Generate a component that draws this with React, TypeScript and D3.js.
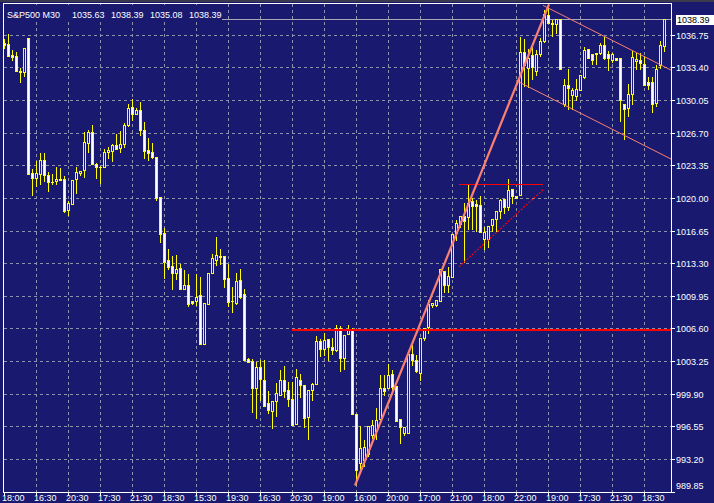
import React from "react";
import * as d3 from "d3";

const W = 714;
const H = 503;

const symbolLabel = "S&P500 M30";
const headerOHLC = [1035.63, 1038.39, 1035.08, 1038.39];
const currentPrice = 1038.39;

const opens = [
  1035.86, 1035.76, 1034.66, 1034.52, 1033.08, 1032.95, 1036.38, 1022.56, 1022.01, 1022.45,
  1023.89, 1022.36, 1021.64, 1021.74, 1021.97, 1021.97, 1018.71, 1019.37, 1021.9, 1022.52,
  1022.87, 1025.65, 1026.74, 1023.51, 1023.21, 1023.21, 1024.73, 1024.82, 1025.47, 1025.16,
  1025.55, 1027.45, 1029.35, 1028.64, 1029.07, 1026.99, 1024.95, 1024.75, 1024.24, 1020.09,
  1016.38, 1013.6, 1013.02, 1012.33, 1012.81, 1010.69, 1011.03, 1009.41, 1009.38, 1010.04,
  1005.01, 1009.13, 1012.27, 1013.67, 1014.08, 1014.02, 1011.78, 1009.41, 1009.2, 1011.54,
  1010.1, 1003.44, 1003.23, 1000.53, 1002.61, 1001.35, 998.91, 998.09, 999.15, 999.8,
  1001.25, 1000.32, 999.4, 996.78, 1001.28, 1000.76, 997.5, 1000.32, 1000.94, 1005.26,
  1004.5, 1005.5, 1004.67, 1004.39, 1006.6, 1003.57, 1005.98, 1006.42, 997.85, 992.74,
  993.05, 993.74, 995.62, 996.06, 997.34, 1000.53, 1000.53, 1001.89, 1000.7, 997.26,
  995.86, 995.86, 1004.02, 1003.33, 1001.97, 1005.64, 1006.7, 1009.0, 1009.0, 1009.44,
  1012.54, 1011.03, 1011.91, 1016.38, 1017.34, 1018.09, 1017.99, 1019.64, 1019.37, 1019.3,
  1015.77, 1015.77, 1017.24, 1017.82, 1018.65, 1019.88, 1019.02, 1020.91, 1020.22, 1020.25,
  1035.01, 1033.36, 1034.63, 1033.08, 1034.8, 1036.1, 1038.74, 1037.99, 1037.82, 1038.4,
  1029.66, 1031.64, 1030.54, 1030.44, 1031.13, 1032.43, 1035.24, 1034.73, 1034.73, 1034.9,
  1035.66, 1034.73, 1034.11, 1034.39, 1034.39, 1029.66, 1029.24, 1030.68, 1034.04, 1034.21,
  1033.77, 1031.95, 1031.95, 1029.76, 1033.63, 1035.63,
];

const highs = [
  1036.27, 1036.79, 1035.14, 1034.94, 1033.29, 1035.35, 1036.38, 1023.0, 1023.82, 1024.65,
  1024.65, 1022.7, 1022.48, 1023.18, 1023.1, 1022.25, 1019.71, 1021.87, 1023.13, 1022.8,
  1026.81, 1027.01, 1027.53, 1023.62, 1023.31, 1024.98, 1025.26, 1025.5, 1026.6, 1026.84,
  1027.7, 1029.62, 1030.2, 1029.21, 1029.89, 1027.84, 1026.19, 1025.67, 1024.24, 1020.12,
  1016.96, 1014.77, 1014.05, 1014.12, 1013.25, 1012.61, 1012.19, 1009.41, 1012.19, 1011.89,
  1009.17, 1012.27, 1014.22, 1016.0, 1014.77, 1014.02, 1013.25, 1010.86, 1012.3, 1012.71,
  1010.61, 1003.57, 1003.41, 1003.13, 1003.33, 1003.33, 1000.14, 999.12, 1000.97, 1002.31,
  1002.72, 1001.14, 1001.07, 1002.41, 1001.89, 1000.76, 1000.32, 1000.97, 1005.81, 1005.53,
  1006.11, 1005.5, 1005.57, 1006.94, 1006.84, 1005.88, 1006.94, 1006.63, 997.85, 996.55,
  995.11, 996.55, 997.16, 998.43, 1001.79, 1001.79, 1002.99, 1002.31, 1000.7, 997.26,
  996.47, 1004.02, 1004.88, 1003.85, 1005.64, 1006.6, 1009.51, 1009.2, 1009.51, 1012.71,
  1012.54, 1012.95, 1016.31, 1017.75, 1018.09, 1019.5, 1021.4, 1020.02, 1019.81, 1020.22,
  1017.06, 1017.16, 1017.82, 1018.65, 1019.88, 1019.88, 1021.94, 1020.91, 1020.22, 1036.55,
  1036.27, 1035.32, 1035.93, 1035.14, 1036.45, 1039.26, 1039.7, 1038.26, 1038.4, 1038.4,
  1032.26, 1033.19, 1031.3, 1032.16, 1032.57, 1035.48, 1035.24, 1034.8, 1034.9, 1035.93,
  1036.55, 1035.07, 1034.9, 1034.39, 1034.39, 1029.66, 1031.71, 1035.07, 1034.9, 1034.9,
  1034.55, 1032.43, 1032.43, 1033.6, 1036.1, 1038.39,
];

const lows = [
  1035.35, 1034.52, 1034.14, 1032.98, 1031.88, 1032.5, 1022.45, 1020.32, 1021.18, 1021.39,
  1021.7, 1020.66, 1021.39, 1021.39, 1021.8, 1018.57, 1018.27, 1019.37, 1020.5, 1022.38,
  1022.11, 1024.69, 1023.45, 1022.01, 1021.5, 1023.18, 1024.13, 1023.75, 1025.03, 1024.75,
  1025.26, 1027.36, 1028.04, 1028.59, 1026.5, 1024.13, 1023.88, 1024.07, 1019.81, 1015.52,
  1011.81, 1012.68, 1010.69, 1011.71, 1010.69, 1010.69, 1008.89, 1009.1, 1008.96, 1005.01,
  1005.01, 1009.13, 1012.27, 1013.15, 1013.25, 1010.89, 1008.89, 1008.28, 1009.13, 1009.75,
  1003.37, 1003.2, 998.02, 997.4, 999.24, 998.63, 997.88, 996.37, 997.57, 999.8,
  999.56, 998.63, 996.68, 996.78, 999.56, 996.47, 995.24, 999.22, 1000.94, 1003.75,
  1003.85, 1003.37, 1003.99, 1004.29, 1002.23, 1002.44, 1005.98, 997.78, 990.59, 991.81,
  992.43, 993.46, 995.31, 995.28, 996.99, 999.73, 1000.53, 1000.07, 997.09, 994.82,
  995.62, 995.86, 1002.82, 1002.1, 1001.28, 1005.39, 1006.15, 1008.79, 1008.89, 1009.41,
  1010.31, 1010.31, 1011.91, 1015.69, 1017.06, 1013.46, 1016.82, 1016.82, 1016.55, 1016.49,
  1014.74, 1015.0, 1016.55, 1016.55, 1017.96, 1018.5, 1018.78, 1019.47, 1019.99, 1020.25,
  1031.47, 1031.4, 1032.16, 1032.57, 1034.55, 1035.99, 1037.92, 1036.61, 1036.96, 1033.19,
  1029.48, 1029.14, 1029.17, 1030.1, 1031.13, 1032.33, 1034.39, 1033.7, 1033.7, 1034.73,
  1034.29, 1033.11, 1033.94, 1034.21, 1027.86, 1026.05, 1028.38, 1029.66, 1033.19, 1033.19,
  1031.57, 1031.2, 1028.79, 1029.41, 1033.36, 1035.08,
];

const closes = [
  1035.66, 1034.55, 1034.45, 1033.01, 1032.91, 1035.35, 1022.45, 1022.01, 1022.56, 1023.89,
  1022.32, 1021.6, 1021.62, 1021.97, 1021.8, 1018.68, 1019.47, 1021.87, 1022.66, 1022.8,
  1025.78, 1026.74, 1023.45, 1023.18, 1023.21, 1024.75, 1024.88, 1025.44, 1025.06, 1025.57,
  1027.53, 1029.28, 1028.59, 1029.07, 1026.94, 1024.79, 1024.61, 1024.21, 1019.99, 1016.28,
  1013.46, 1012.95, 1012.33, 1012.68, 1010.69, 1011.06, 1009.13, 1009.23, 1009.8, 1005.01,
  1009.17, 1012.27, 1013.81, 1014.12, 1013.94, 1011.71, 1009.34, 1009.41, 1011.44, 1009.85,
  1003.37, 1003.2, 1000.53, 1002.61, 1001.41, 998.63, 998.22, 999.12, 999.94, 1001.35,
  1000.22, 999.35, 996.68, 1001.56, 1000.83, 997.4, 1000.32, 1000.87, 1005.26, 1004.5,
  1005.39, 1004.67, 1004.39, 1006.6, 1003.57, 1005.88, 1006.42, 997.78, 992.02, 994.28,
  994.38, 996.55, 996.72, 997.24, 1000.53, 1000.17, 1001.82, 1000.59, 997.09, 996.47,
  996.47, 1004.02, 1003.33, 1002.23, 1005.64, 1006.6, 1009.1, 1009.2, 1009.51, 1012.68,
  1011.1, 1011.99, 1016.31, 1017.41, 1018.09, 1017.65, 1019.47, 1019.12, 1019.12, 1016.49,
  1016.49, 1017.16, 1017.82, 1018.65, 1019.74, 1019.02, 1020.77, 1020.15, 1019.99, 1035.01,
  1033.63, 1034.39, 1033.42, 1034.8, 1036.1, 1038.85, 1037.92, 1037.82, 1038.4, 1033.26,
  1031.64, 1031.3, 1031.13, 1031.23, 1032.57, 1035.14, 1034.39, 1034.21, 1034.9, 1035.66,
  1034.39, 1034.39, 1034.73, 1034.21, 1030.03, 1029.14, 1030.68, 1034.49, 1034.29, 1033.88,
  1031.57, 1031.64, 1029.66, 1033.26, 1035.66, 1038.39,
];

const xTickLabels = [
  "18:00", "16:30", "20:30", "17:30", "21:30", "18:30", "15:30", "19:30", "16:30", "20:30",
  "19:00", "16:00", "20:00", "17:00", "21:00", "18:00", "22:00", "19:00", "17:30", "21:30", "18:30",
];
const barsPerGrid = 8;

const yTicks = [
  1036.75, 1033.4, 1030.05, 1026.7, 1023.35, 1020.0, 1016.65, 1013.3, 1009.95, 1006.6,
  1003.25, 999.9, 996.55, 993.2, 989.85,
];

// drawn objects, in (bar index, price)
const supportLevel = { startBar: 72, price: 1006.58 };
const trendLine = { b1: 87.75, p1: 990.47, b2: 136.25, p2: 1039.88 };
const triangleTop = { b1: 113.75, b2: 134.75, price: 1021.45 };
const triangleBottom = { b1: 113.75, p1: 1012.92, b2: 134.75, p2: 1020.84 };
const channelUpper = { b1: 134.75, p1: 1039.77, b2: 167, p2: 1033.07 };
const channelLower = { b1: 128, p1: 1032.05, b2: 167, p2: 1023.94 };

const BG = "#191970";
const GRID = "#8c94aa";
const FONT = "'Liberation Sans', Arial, sans-serif";

export default function App() {
  const n = opens.length;
  const left = 4;
  const right = 671;
  const top = 4;
  const bottom = 492;
  const x = d3.scaleLinear().domain([0, n - 1]).range([4, 4 + 4 * (n - 1)]);
  const y = d3.scaleLinear().domain([989.8, 1039.91]).range([492, 4]);
  const ry = (p: number) => Math.round(y(p));

  const gridBars = d3.range(0, n, barsPerGrid);

  const candles = opens.map((o, i) => {
    const c = closes[i];
    const h = Math.max(highs[i], o, c);
    const l = Math.min(lows[i], o, c);
    const cx = Math.round(x(i));
    const bTop = ry(Math.max(o, c));
    const bBot = ry(Math.min(o, c));
    const wTop = ry(h);
    const wBot = ry(l);
    const bear = c < o;
    return (
      <g key={i}>
        <rect x={cx} y={wTop} width={1} height={wBot - wTop + 1} fill="#ffff00" />
        <rect x={cx - 1} y={bTop} width={3} height={bBot - bTop + 1} fill="#ffff00" />
        {bBot - bTop >= 2 && (
          <rect x={cx} y={bTop + 1} width={1} height={bBot - bTop - 1} fill={bear ? "#ffffff" : BG} />
        )}
      </g>
    );
  });

  const seg = (b1: number, p1: number, b2: number, p2: number) => ({
    x1: x(b1), y1: y(p1), x2: x(b2), y2: y(p2),
  });

  const headerXs = [72, 111, 150, 189];

  return (
    <svg
      width={W}
      height={H}
      style={{ position: "absolute", left: 0, top: 0, display: "block" }}
      fontFamily={FONT}
    >
      <defs>
        <clipPath id="plotClip">
          <rect x={left} y={top} width={right - left} height={bottom - top} />
        </clipPath>
      </defs>
      <rect x={0} y={0} width={W} height={H} fill={BG} />
      <rect x={0} y={0} width={W} height={2} fill="#3a3a4c" />

      {/* grid */}
      <g shapeRendering="crispEdges" stroke={GRID} strokeWidth={1} strokeDasharray="3,3">
        {yTicks.map((v) => (
          <line key={"h" + v} x1={left} x2={right} y1={ry(v) + 0.5} y2={ry(v) + 0.5} />
        ))}
        {gridBars.filter((b) => b > 0).map((b) => (
          <line key={"v" + b} x1={Math.round(x(b)) + 0.5} x2={Math.round(x(b)) + 0.5} y1={top} y2={bottom} />
        ))}
      </g>

      {/* current price line */}
      <line
        x1={left}
        x2={right}
        y1={ry(currentPrice) + 0.5}
        y2={ry(currentPrice) + 0.5}
        stroke="#a8a8b8"
        strokeWidth={1}
        shapeRendering="crispEdges"
      />

      <g clipPath="url(#plotClip)" shapeRendering="crispEdges">{candles}</g>

      {/* objects */}
      <g clipPath="url(#plotClip)">
        <line
          x1={x(supportLevel.startBar)}
          x2={right}
          y1={ry(supportLevel.price) + 0.5}
          y2={ry(supportLevel.price) + 0.5}
          stroke="#ff0000"
          strokeWidth={2}
          shapeRendering="crispEdges"
        />
        <line
          x1={x(triangleTop.b1)}
          x2={x(triangleTop.b2)}
          y1={ry(triangleTop.price) + 0.5}
          y2={ry(triangleTop.price) + 0.5}
          stroke="#ff0000"
          strokeWidth={1.5}
          shapeRendering="crispEdges"
        />
        <line
          {...seg(triangleBottom.b1, triangleBottom.p1, triangleBottom.b2, triangleBottom.p2)}
          stroke="#ff0000"
          strokeWidth={1.2}
          strokeDasharray="2,1.5"
        />
        <line {...seg(channelUpper.b1, channelUpper.p1, channelUpper.b2, channelUpper.p2)} stroke="#fa8072" strokeWidth={1} />
        <line {...seg(channelLower.b1, channelLower.p1, channelLower.b2, channelLower.p2)} stroke="#fa8072" strokeWidth={1} />
        <line {...seg(trendLine.b1, trendLine.p1, trendLine.b2, trendLine.p2)} stroke="#fa8072" strokeWidth={2.2} />
      </g>

      {/* header */}
      <rect x={left} y={top + 1} width={218} height={17} fill={BG} />
      <g fill="#ffffff" fontSize={9}>
        <text x={7} y={18}>{symbolLabel}</text>
        {headerOHLC.map((v, k) => (
          <text key={k} x={headerXs[k]} y={18}>{v.toFixed(2)}</text>
        ))}
      </g>

      {/* frame */}
      <rect
        x={3.5}
        y={3.5}
        width={right - 3}
        height={bottom - 3}
        fill="none"
        stroke="#ffffff"
        strokeWidth={1}
        shapeRendering="crispEdges"
      />

      {/* y axis */}
      <g fill="#ffffff" fontSize={9}>
        {yTicks.map((v) => {
          const yy = ry(v) + 0.5;
          return (
            <g key={"yt" + v}>
              <line x1={right + 1} x2={right + 4} y1={yy} y2={yy} stroke="#ffffff" shapeRendering="crispEdges" />
              <text x={676} y={Math.min(yy + 3.5, 488.5)}>{v.toFixed(2)}</text>
            </g>
          );
        })}
      </g>
      <rect x={676} y={15} width={38} height={10} fill="#ffffff" />
      <text x={677} y={23} fontSize={9} fill="#000000">{currentPrice.toFixed(2)}</text>

      {/* x axis */}
      <g fill="#ffffff" fontSize={9}>
        {gridBars.map((b, k) => {
          const xx = Math.round(x(b)) + 0.5;
          return (
            <g key={"xt" + b}>
              <line x1={xx} x2={xx} y1={bottom + 1} y2={bottom + 4} stroke="#ffffff" shapeRendering="crispEdges" />
              <text x={xx - 2.5} y={501}>{xTickLabels[k]}</text>
            </g>
          );
        })}
      </g>
    </svg>
  );
}
